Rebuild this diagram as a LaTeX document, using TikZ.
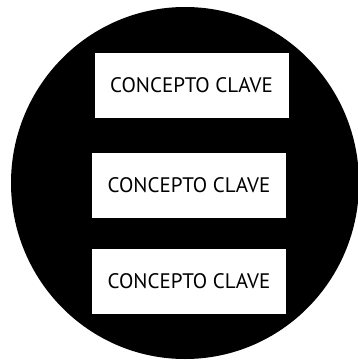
\documentclass[tikz,border=0pt]{standalone}
\usepackage{fontspec}
\setmainfont{PT Sans}
\tikzset{
  conceptbox/.style={fill=white, inner sep=0pt, minimum width=194pt,
    minimum height=65pt, font=\fontsize{21}{24}\selectfont}
}

\begin{document}
\begin{tikzpicture}[x=1pt, y=-1pt]
    \useasboundingbox (0,0) rectangle (358,361);
    % Disc
    \fill[black] (185,183) ellipse [x radius=174, y radius=176];
    % Boxes
    \node[conceptbox] (clave1) at (191.5,85.5) {CONCEPTO CLAVE};
    \node[conceptbox] (clave2) at (189,185.5) {CONCEPTO CLAVE};
    \node[conceptbox] (clave3) at (189,281.5) {CONCEPTO CLAVE};
\end{tikzpicture}
\end{document}
